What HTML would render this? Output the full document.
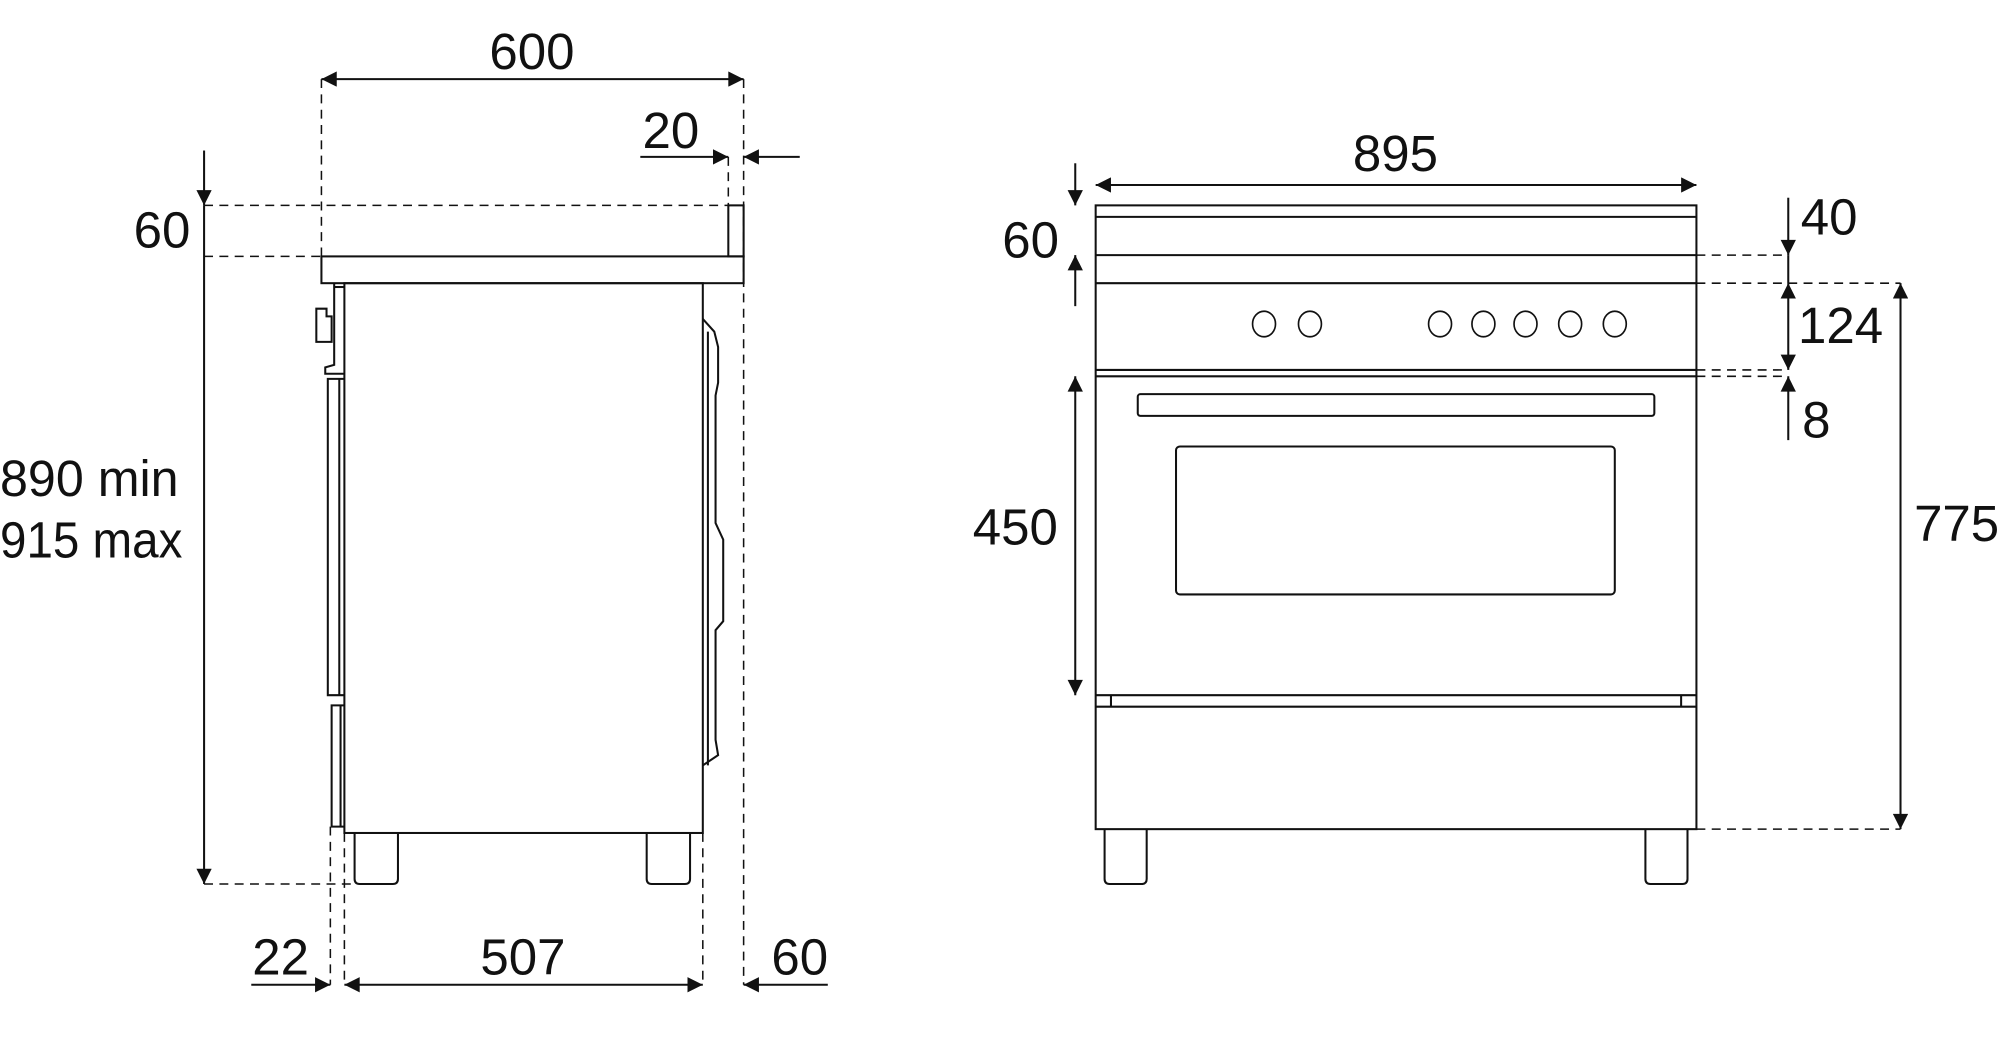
<!DOCTYPE html>
<html><head><meta charset="utf-8"><style>
html,body{margin:0;padding:0;background:#fff;}
svg{display:block;}
text{font-family:"Liberation Sans",sans-serif;font-size:40px;fill:#111;}
</style></head><body>
<svg width="2000" height="1046" viewBox="0 0 1568 820" preserveAspectRatio="none" xmlns="http://www.w3.org/2000/svg">
<defs>
<marker id="a" viewBox="0 0 10 10" refX="10" refY="5" markerWidth="18" markerHeight="12" markerUnits="userSpaceOnUse" orient="auto-start-reverse"><path d="M0,0 L10,5 L0,10 z" fill="#111"/></marker>
</defs>
<g fill="none" stroke="#111" stroke-width="1.2" stroke-dasharray="7,5">
<line x1="252" y1="62" x2="252" y2="201"/>
<line x1="583" y1="62" x2="583" y2="772"/>
<line x1="571" y1="123" x2="571" y2="161"/>
<line x1="259" y1="648" x2="259" y2="772"/>
<line x1="270" y1="653" x2="270" y2="772"/>
<line x1="551" y1="653" x2="551" y2="772"/>
<line x1="160" y1="161" x2="571" y2="161"/>
<line x1="160" y1="201" x2="252" y2="201"/>
<line x1="160" y1="693" x2="278" y2="693"/>
<line x1="1330" y1="200" x2="1402" y2="200"/>
<line x1="1330" y1="222" x2="1490" y2="222"/>
<line x1="1330" y1="290" x2="1402" y2="290"/>
<line x1="1330" y1="295" x2="1402" y2="295"/>
<line x1="1330" y1="650" x2="1490" y2="650"/>
</g>
<g fill="none" stroke="#111" stroke-width="1.6">
<rect x="252" y="201" width="331" height="21"/>
<rect x="571" y="161" width="12" height="40"/>
<rect x="270" y="222" width="281" height="431"/>
<path d="M262,222 V286 L255,288 V293 L270,293"/>
<path d="M262,225 H270"/>
<path d="M248,242 H256 V248 H260 V268 H248 Z"/>
<path d="M270,297 H257 V545 H270"/><line x1="266" y1="297" x2="266" y2="545"/>
<path d="M270,553 H260 V648 H270"/><line x1="267" y1="553" x2="267" y2="648"/>
<path d="M551,250 L560,260 L563,272 V300 L561,310 V410 L567,423 V487 L561,494 V580 L563,592 L551,600"/>
<line x1="555" y1="260" x2="555" y2="600"/>
<path d="M278,653 V689 Q278,693 282,693 H308 Q312,693 312,689 V653"/>
<path d="M507,653 V689 Q507,693 511,693 H537 Q541,693 541,689 V653"/>
<rect x="859" y="161" width="471" height="489"/>
<line x1="859" y1="170" x2="1330" y2="170"/>
<line x1="859" y1="200" x2="1330" y2="200"/>
<line x1="859" y1="222" x2="1330" y2="222"/>
<line x1="859" y1="290" x2="1330" y2="290"/>
<line x1="859" y1="295" x2="1330" y2="295"/>
<line x1="859" y1="545" x2="1330" y2="545"/>
<line x1="859" y1="554" x2="1330" y2="554"/>
<line x1="871" y1="545" x2="871" y2="554"/><line x1="1318" y1="545" x2="1318" y2="554"/>
<rect x="892" y="309" width="405" height="17" rx="2"/>
<rect x="922" y="350" width="344" height="116" rx="3"/>
<g stroke-width="1.3">
<ellipse cx="991" cy="254" rx="9" ry="10"/><ellipse cx="1027" cy="254" rx="9" ry="10"/>
<ellipse cx="1129" cy="254" rx="9" ry="10"/><ellipse cx="1163" cy="254" rx="9" ry="10"/>
<ellipse cx="1196" cy="254" rx="9" ry="10"/><ellipse cx="1231" cy="254" rx="9" ry="10"/>
<ellipse cx="1266" cy="254" rx="9" ry="10"/>
</g>
<path d="M866,650 V689 Q866,693 870,693 H895 Q899,693 899,689 V650"/>
<path d="M1290,650 V689 Q1290,693 1294,693 H1319 Q1323,693 1323,689 V650"/>
<line x1="252" y1="62" x2="583" y2="62" marker-start="url(#a)" marker-end="url(#a)"/>
<line x1="502" y1="123" x2="571" y2="123" marker-end="url(#a)"/>
<line x1="627" y1="123" x2="583" y2="123" marker-end="url(#a)"/>
<line x1="160" y1="118" x2="160" y2="161" marker-end="url(#a)"/>
<line x1="160" y1="161" x2="160" y2="693" marker-end="url(#a)"/>
<line x1="197" y1="772" x2="259" y2="772" marker-end="url(#a)"/>
<line x1="270" y1="772" x2="551" y2="772" marker-start="url(#a)" marker-end="url(#a)"/>
<line x1="649" y1="772" x2="583" y2="772" marker-end="url(#a)"/>
<line x1="859" y1="145" x2="1330" y2="145" marker-start="url(#a)" marker-end="url(#a)"/>
<line x1="843" y1="128" x2="843" y2="161" marker-end="url(#a)"/>
<line x1="843" y1="240" x2="843" y2="200" marker-end="url(#a)"/>
<line x1="843" y1="295" x2="843" y2="545" marker-start="url(#a)" marker-end="url(#a)"/>
<line x1="1402" y1="155" x2="1402" y2="200" marker-end="url(#a)"/>
<line x1="1402" y1="200" x2="1402" y2="222"/>
<line x1="1402" y1="222" x2="1402" y2="290" marker-start="url(#a)" marker-end="url(#a)"/>
<line x1="1402" y1="345" x2="1402" y2="295" marker-end="url(#a)"/>
<line x1="1490" y1="222" x2="1490" y2="650" marker-start="url(#a)" marker-end="url(#a)"/>
</g>
<text x="417" y="54" text-anchor="middle">600</text>
<text x="526" y="116" text-anchor="middle">20</text>
<text x="127" y="194" text-anchor="middle">60</text>
<text x="0" y="389" textLength="140" lengthAdjust="spacingAndGlyphs">890 min</text>
<text x="0" y="437" textLength="143" lengthAdjust="spacingAndGlyphs">915 max</text>
<text x="220" y="764" text-anchor="middle">22</text>
<text x="410" y="764" text-anchor="middle">507</text>
<text x="627" y="764" text-anchor="middle">60</text>
<text x="1094" y="134" text-anchor="middle">895</text>
<text x="808" y="202" text-anchor="middle">60</text>
<text x="1434" y="184" text-anchor="middle">40</text>
<text x="1443" y="269" text-anchor="middle">124</text>
<text x="1424" y="343" text-anchor="middle">8</text>
<text x="796" y="427" text-anchor="middle">450</text>
<text x="1534" y="424" text-anchor="middle">775</text>
</svg>
</body></html>
